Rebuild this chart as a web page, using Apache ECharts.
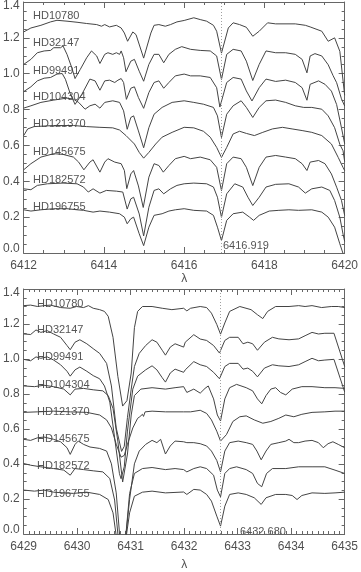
<!DOCTYPE html>
<html>
<head>
<meta charset="utf-8">
<script src="https://cdn.jsdelivr.net/npm/echarts@6/dist/echarts.min.js"></script>
<style>
html,body{margin:0;padding:0;background:#fff;}
#chart{width:361px;height:572px;}
</style>
</head>
<body>
<div id="chart"></div>
<script>
// ---------- DATA ----------
const starNames = ['HD10780','HD32147','HD99491','HD104304','HD121370','HD145675','HD182572','HD196755'];
const markTop = 6416.919;
const markBot = 6432.680;
const xTopRange = [6412, 6420];
const xBotRange = [6429, 6435];

// Top panel spectra [wavelength, relative flux + offset]
const top_HD10780 = [[6412.00,1.233],[6412.18,1.255],[6412.43,1.270],[6412.67,1.289],[6412.83,1.298],[6413.08,1.293],[6413.33,1.287],[6413.57,1.280],[6413.82,1.274],[6413.94,1.265],[6414.02,1.274],[6414.14,1.261],[6414.31,1.270],[6414.43,1.255],[6414.51,1.227],[6414.59,1.181],[6414.72,1.233],[6414.80,1.218],[6414.99,1.087],[6415.17,1.227],[6415.25,1.270],[6415.37,1.274],[6415.53,1.265],[6415.66,1.274],[6415.82,1.289],[6416.00,1.297],[6416.24,1.312],[6416.40,1.302],[6416.56,1.293],[6416.73,1.270],[6416.81,1.237],[6416.93,1.115],[6417.10,1.255],[6417.22,1.284],[6417.38,1.274],[6417.55,1.259],[6417.71,1.209],[6417.87,1.237],[6418.08,1.284],[6418.28,1.278],[6418.77,1.278],[6419.02,1.270],[6419.14,1.261],[6419.43,1.237],[6419.59,1.181],[6419.75,1.200],[6419.88,1.125],[6420.00,0.880]];
const top_HD32147 = [[6412.00,1.052],[6412.18,1.080],[6412.34,1.117],[6412.51,1.127],[6412.67,1.130],[6412.75,1.145],[6412.92,1.145],[6412.98,1.155],[6413.08,1.108],[6413.20,1.033],[6413.28,0.973],[6413.41,1.024],[6413.57,1.089],[6413.69,1.127],[6413.82,1.099],[6413.90,1.057],[6414.02,1.108],[6414.10,1.117],[6414.22,1.108],[6414.31,1.117],[6414.39,1.108],[6414.43,1.127],[6414.49,1.089],[6414.55,1.011],[6414.67,1.070],[6414.76,1.080],[6414.88,1.014],[6414.99,0.958],[6415.12,1.052],[6415.25,1.108],[6415.37,1.108],[6415.49,1.061],[6415.62,1.108],[6415.78,1.136],[6415.94,1.151],[6416.16,1.136],[6416.40,1.130],[6416.65,1.127],[6416.81,1.099],[6416.93,0.968],[6417.06,1.108],[6417.22,1.136],[6417.42,1.127],[6417.55,1.070],[6417.71,0.962],[6417.87,1.052],[6418.04,1.127],[6418.28,1.117],[6418.53,1.117],[6418.77,1.108],[6418.94,1.080],[6419.06,1.005],[6419.14,1.099],[6419.26,1.112],[6419.43,1.099],[6419.59,1.050],[6419.71,0.990],[6419.80,0.950],[6419.92,0.860],[6420.00,0.820]];
const top_HD99491 = [[6412.00,0.900],[6412.18,0.927],[6412.34,0.960],[6412.51,0.975],[6412.67,0.979],[6412.83,0.998],[6412.96,1.001],[6413.04,0.969],[6413.16,0.889],[6413.28,0.829],[6413.45,0.885],[6413.65,0.970],[6413.78,0.960],[6413.90,0.908],[6414.02,0.960],[6414.14,0.964],[6414.27,0.951],[6414.35,0.964],[6414.43,0.973],[6414.49,0.951],[6414.56,0.857],[6414.67,0.919],[6414.76,0.927],[6414.86,0.867],[6414.99,0.807],[6415.12,0.895],[6415.25,0.951],[6415.37,0.960],[6415.49,0.919],[6415.62,0.951],[6415.78,0.988],[6416.00,0.998],[6416.16,0.988],[6416.40,0.988],[6416.65,0.979],[6416.81,0.922],[6416.89,0.814],[6417.06,0.951],[6417.22,0.979],[6417.42,0.970],[6417.55,0.904],[6417.69,0.848],[6417.87,0.922],[6418.04,0.970],[6418.28,0.957],[6418.53,0.964],[6418.77,0.951],[6418.94,0.922],[6419.06,0.852],[6419.14,0.941],[6419.35,0.960],[6419.51,0.941],[6419.67,0.903],[6419.80,0.828],[6419.92,0.699],[6420.00,0.610]];
const top_HD104304 = [[6412.00,0.808],[6412.18,0.821],[6412.43,0.840],[6412.75,0.853],[6413.08,0.864],[6413.24,0.858],[6413.37,0.840],[6413.53,0.802],[6413.65,0.821],[6413.78,0.830],[6413.90,0.808],[6414.02,0.840],[6414.22,0.849],[6414.39,0.840],[6414.49,0.793],[6414.58,0.690],[6414.67,0.756],[6414.74,0.765],[6414.86,0.681],[6414.99,0.587],[6415.12,0.699],[6415.25,0.774],[6415.45,0.812],[6415.70,0.840],[6416.00,0.849],[6416.24,0.840],[6416.48,0.830],[6416.73,0.812],[6416.83,0.765],[6416.93,0.644],[6417.06,0.774],[6417.22,0.821],[6417.42,0.849],[6417.55,0.812],[6417.71,0.756],[6417.87,0.812],[6418.04,0.849],[6418.28,0.853],[6418.53,0.840],[6418.77,0.821],[6418.98,0.812],[6419.18,0.812],[6419.43,0.802],[6419.59,0.765],[6419.75,0.699],[6419.88,0.606],[6419.96,0.570],[6420.00,0.510]];
const top_HD121370 = [[6412.00,0.655],[6412.10,0.692],[6412.26,0.705],[6412.75,0.711],[6413.24,0.711],[6413.57,0.705],[6413.90,0.701],[6414.22,0.698],[6414.39,0.686],[6414.55,0.655],[6414.76,0.608],[6414.88,0.561],[6414.99,0.529],[6415.12,0.561],[6415.29,0.608],[6415.45,0.646],[6415.70,0.673],[6416.00,0.701],[6416.24,0.698],[6416.48,0.679],[6416.65,0.646],[6416.81,0.589],[6416.93,0.533],[6417.06,0.589],[6417.22,0.664],[6417.38,0.679],[6417.55,0.667],[6417.75,0.655],[6417.96,0.673],[6418.20,0.692],[6418.45,0.701],[6418.69,0.692],[6418.94,0.683],[6419.18,0.673],[6419.43,0.655],[6419.67,0.608],[6419.84,0.533],[6419.96,0.477],[6420.00,0.460]];
const top_HD145675 = [[6412.00,0.464],[6412.18,0.498],[6412.43,0.535],[6412.75,0.554],[6412.98,0.550],[6413.24,0.535],[6413.37,0.507],[6413.50,0.464],[6413.65,0.507],[6413.73,0.520],[6413.90,0.451],[6414.02,0.507],[6414.10,0.526],[6414.27,0.507],[6414.43,0.498],[6414.51,0.460],[6414.57,0.359],[6414.67,0.441],[6414.74,0.460],[6414.86,0.374],[6414.98,0.254],[6415.12,0.423],[6415.25,0.498],[6415.37,0.488],[6415.48,0.451],[6415.62,0.488],[6415.78,0.526],[6416.00,0.539],[6416.16,0.526],[6416.40,0.535],[6416.65,0.520],[6416.81,0.478],[6416.93,0.348],[6417.06,0.498],[6417.22,0.535],[6417.42,0.526],[6417.55,0.478],[6417.71,0.376],[6417.87,0.478],[6418.04,0.535],[6418.28,0.544],[6418.53,0.535],[6418.77,0.526],[6418.94,0.498],[6419.06,0.460],[6419.14,0.507],[6419.35,0.516],[6419.51,0.498],[6419.67,0.441],[6419.80,0.367],[6419.92,0.294],[6420.00,0.210]];
const top_HD182572 = [[6412.00,0.358],[6412.18,0.353],[6412.34,0.377],[6412.59,0.386],[6412.98,0.390],[6413.33,0.386],[6413.49,0.368],[6413.61,0.340],[6413.73,0.358],[6413.90,0.334],[6414.06,0.349],[6414.31,0.345],[6414.47,0.340],[6414.58,0.245],[6414.67,0.302],[6414.74,0.311],[6414.88,0.218],[6414.99,0.095],[6415.12,0.255],[6415.25,0.349],[6415.37,0.358],[6415.49,0.330],[6415.66,0.358],[6415.82,0.377],[6416.00,0.386],[6416.24,0.390],[6416.56,0.386],[6416.73,0.368],[6416.83,0.311],[6416.93,0.199],[6417.06,0.330],[6417.26,0.386],[6417.46,0.368],[6417.59,0.311],[6417.71,0.265],[6417.87,0.311],[6418.04,0.368],[6418.28,0.383],[6418.61,0.386],[6418.85,0.368],[6419.02,0.334],[6419.18,0.358],[6419.43,0.368],[6419.63,0.349],[6419.75,0.293],[6419.88,0.199],[6419.96,0.105],[6420.00,0.065]];
const top_HD196755 = [[6412.00,0.241],[6412.18,0.234],[6412.43,0.241],[6412.75,0.247],[6413.08,0.247],[6413.33,0.241],[6413.49,0.238],[6413.73,0.228],[6413.90,0.234],[6414.14,0.228],[6414.39,0.219],[6414.51,0.200],[6414.58,0.163],[6414.67,0.191],[6414.74,0.200],[6414.88,0.107],[6414.99,0.041],[6415.12,0.144],[6415.25,0.210],[6415.45,0.219],[6415.62,0.234],[6415.78,0.241],[6416.00,0.247],[6416.24,0.238],[6416.56,0.234],[6416.73,0.210],[6416.83,0.144],[6416.93,0.069],[6417.06,0.182],[6417.22,0.219],[6417.46,0.228],[6417.63,0.200],[6417.73,0.182],[6417.87,0.210],[6418.12,0.234],[6418.36,0.238],[6418.61,0.241],[6418.85,0.238],[6419.18,0.241],[6419.43,0.228],[6419.59,0.200],[6419.75,0.144],[6419.88,0.051],[6420.00,-0.030]];

// Bottom panel spectra
const bot_HD10780 = [[6429.00,1.305],[6429.13,1.308],[6429.26,1.300],[6429.38,1.305],[6429.50,1.308],[6429.69,1.294],[6429.87,1.290],[6429.99,1.300],[6430.12,1.294],[6430.21,1.305],[6430.30,1.290],[6430.42,1.282],[6430.51,1.272],[6430.58,1.244],[6430.67,1.124],[6430.76,0.901],[6430.85,0.731],[6430.93,0.762],[6431.01,0.920],[6431.07,1.179],[6431.13,1.272],[6431.22,1.300],[6431.40,1.300],[6431.59,1.290],[6431.77,1.282],[6431.99,1.290],[6432.05,1.275],[6432.12,1.290],[6432.30,1.300],[6432.42,1.294],[6432.51,1.262],[6432.61,1.197],[6432.68,1.142],[6432.76,1.206],[6432.85,1.272],[6433.04,1.300],[6433.25,1.282],[6433.37,1.253],[6433.47,1.231],[6433.56,1.272],[6433.71,1.300],[6433.96,1.300],[6434.14,1.305],[6434.26,1.300],[6434.39,1.305],[6434.57,1.294],[6434.75,1.300],[6434.88,1.300],[6435.00,1.294]];
const bot_HD32147 = [[6429.00,1.143],[6429.13,1.140],[6429.23,1.166],[6429.32,1.152],[6429.44,1.162],[6429.56,1.143],[6429.69,1.124],[6429.81,1.077],[6429.87,1.053],[6429.96,1.096],[6430.05,1.110],[6430.18,1.087],[6430.30,1.059],[6430.42,1.032],[6430.55,0.975],[6430.64,0.846],[6430.73,0.606],[6430.83,0.472],[6430.88,0.501],[6430.94,0.666],[6431.01,0.828],[6431.07,0.957],[6431.16,1.032],[6431.28,1.077],[6431.40,1.110],[6431.49,1.096],[6431.59,1.050],[6431.65,1.022],[6431.74,1.068],[6431.83,1.087],[6431.99,1.068],[6432.02,1.096],[6432.18,1.139],[6432.30,1.114],[6432.42,1.106],[6432.55,1.077],[6432.66,1.034],[6432.76,1.106],[6432.85,1.124],[6433.01,1.124],[6433.10,1.087],[6433.19,1.096],[6433.28,1.087],[6433.37,1.050],[6433.50,1.096],[6433.65,1.124],[6433.77,1.115],[6433.96,1.110],[6434.14,1.115],[6434.26,1.133],[6434.39,1.152],[6434.51,1.143],[6434.63,1.147],[6434.80,1.147],[6435.00,0.958]];
const bot_HD99491 = [[6429.00,0.998],[6429.13,0.990],[6429.23,1.012],[6429.32,1.004],[6429.44,1.012],[6429.56,0.994],[6429.69,0.967],[6429.81,0.930],[6429.87,0.902],[6429.96,0.938],[6430.05,0.954],[6430.18,0.930],[6430.30,0.905],[6430.42,0.887],[6430.51,0.846],[6430.61,0.754],[6430.70,0.550],[6430.79,0.345],[6430.82,0.316],[6430.88,0.384],[6430.94,0.588],[6431.04,0.828],[6431.13,0.902],[6431.28,0.938],[6431.40,0.961],[6431.49,0.938],[6431.59,0.893],[6431.65,0.868],[6431.74,0.920],[6431.83,0.942],[6431.99,0.924],[6432.02,0.938],[6432.18,0.985],[6432.30,0.967],[6432.42,0.957],[6432.55,0.924],[6432.66,0.887],[6432.76,0.957],[6432.85,0.975],[6433.01,0.975],[6433.10,0.942],[6433.19,0.948],[6433.28,0.930],[6433.37,0.898],[6433.50,0.948],[6433.65,0.967],[6433.77,0.961],[6433.96,0.957],[6434.14,0.967],[6434.26,0.985],[6434.39,1.004],[6434.51,0.990],[6434.63,0.994],[6434.80,0.998],[6435.00,0.812]];
const bot_HD104304 = [[6429.00,0.846],[6429.20,0.842],[6429.38,0.850],[6429.56,0.842],[6429.75,0.828],[6429.87,0.795],[6429.96,0.828],[6430.12,0.832],[6430.30,0.824],[6430.48,0.818],[6430.58,0.791],[6430.67,0.717],[6430.76,0.531],[6430.85,0.297],[6430.88,0.307],[6430.94,0.457],[6431.01,0.680],[6431.07,0.791],[6431.19,0.828],[6431.40,0.836],[6431.65,0.828],[6431.83,0.836],[6431.99,0.842],[6432.05,0.809],[6432.18,0.828],[6432.30,0.805],[6432.39,0.832],[6432.45,0.846],[6432.55,0.772],[6432.62,0.680],[6432.68,0.646],[6432.76,0.772],[6432.85,0.836],[6432.98,0.855],[6433.16,0.836],[6433.28,0.818],[6433.37,0.772],[6433.45,0.744],[6433.53,0.791],[6433.62,0.828],[6433.71,0.836],[6433.80,0.809],[6433.90,0.795],[6434.02,0.828],[6434.20,0.842],[6434.39,0.842],[6434.63,0.836],[6434.82,0.836],[6435.00,0.832]];
const bot_HD121370 = [[6429.00,0.695],[6429.26,0.698],[6429.56,0.702],[6429.87,0.698],[6430.18,0.695],[6430.42,0.680],[6430.55,0.652],[6430.64,0.606],[6430.73,0.513],[6430.82,0.439],[6430.88,0.449],[6430.94,0.513],[6431.04,0.606],[6431.13,0.661],[6431.17,0.670],[6431.22,0.684],[6431.24,0.672],[6431.27,0.698],[6431.40,0.702],[6431.65,0.698],[6431.99,0.698],[6432.12,0.698],[6432.30,0.707],[6432.42,0.689],[6432.51,0.652],[6432.61,0.587],[6432.68,0.531],[6432.79,0.568],[6432.91,0.643],[6433.04,0.670],[6433.16,0.675],[6433.31,0.652],[6433.47,0.633],[6433.62,0.643],[6433.77,0.661],[6433.90,0.680],[6434.05,0.670],[6434.20,0.684],[6434.39,0.695],[6434.63,0.698],[6434.82,0.702],[6435.00,0.702]];
const bot_HD145675 = [[6429.00,0.541],[6429.13,0.535],[6429.26,0.550],[6429.38,0.554],[6429.56,0.541],[6429.69,0.527],[6429.81,0.493],[6429.87,0.455],[6429.96,0.512],[6430.02,0.531],[6430.12,0.512],[6430.24,0.497],[6430.42,0.489],[6430.55,0.474],[6430.64,0.401],[6430.73,0.235],[6430.84,-0.180],[6430.90,-0.040],[6430.98,0.198],[6431.07,0.401],[6431.16,0.474],[6431.28,0.512],[6431.40,0.535],[6431.49,0.522],[6431.56,0.541],[6431.65,0.457],[6431.74,0.503],[6431.83,0.531],[6431.99,0.527],[6432.05,0.522],[6432.18,0.522],[6432.30,0.516],[6432.42,0.503],[6432.51,0.474],[6432.61,0.420],[6432.68,0.355],[6432.76,0.474],[6432.85,0.522],[6433.01,0.531],[6433.16,0.522],[6433.28,0.512],[6433.36,0.474],[6433.44,0.424],[6433.53,0.474],[6433.62,0.512],[6433.77,0.522],[6433.90,0.531],[6433.96,0.541],[6434.05,0.522],[6434.14,0.522],[6434.26,0.531],[6434.39,0.535],[6434.51,0.522],[6434.60,0.493],[6434.69,0.516],[6434.78,0.527],[6434.88,0.512],[6435.00,0.493]];
const bot_HD182572 = [[6429.00,0.403],[6429.13,0.393],[6429.32,0.384],[6429.56,0.374],[6429.75,0.365],[6429.87,0.336],[6429.96,0.374],[6430.12,0.368],[6430.30,0.361],[6430.48,0.355],[6430.61,0.317],[6430.70,0.194],[6430.84,-0.250],[6430.90,-0.040],[6430.98,0.231],[6431.07,0.346],[6431.22,0.374],[6431.40,0.380],[6431.65,0.368],[6431.83,0.374],[6431.99,0.368],[6432.05,0.355],[6432.18,0.374],[6432.30,0.384],[6432.42,0.374],[6432.55,0.336],[6432.62,0.251],[6432.68,0.212],[6432.76,0.346],[6432.85,0.374],[6432.98,0.384],[6433.16,0.368],[6433.28,0.346],[6433.37,0.289],[6433.45,0.270],[6433.54,0.346],[6433.65,0.374],[6433.90,0.374],[6434.14,0.384],[6434.39,0.384],[6434.63,0.384],[6434.82,0.365],[6435.00,0.346]];
const bot_HD196755 = [[6429.00,0.251],[6429.20,0.245],[6429.38,0.251],[6429.56,0.239],[6429.75,0.235],[6429.93,0.232],[6430.18,0.239],[6430.42,0.226],[6430.58,0.197],[6430.67,0.121],[6430.84,-0.250],[6430.90,-0.050],[6430.98,0.121],[6431.07,0.216],[6431.22,0.239],[6431.40,0.245],[6431.65,0.235],[6431.99,0.240],[6432.05,0.226],[6432.18,0.255],[6432.30,0.251],[6432.42,0.226],[6432.51,0.188],[6432.61,0.102],[6432.68,0.045],[6432.76,0.159],[6432.85,0.226],[6433.01,0.235],[6433.16,0.226],[6433.31,0.207],[6433.44,0.169],[6433.53,0.207],[6433.71,0.226],[6433.90,0.226],[6434.02,0.220],[6434.11,0.197],[6434.20,0.220],[6434.39,0.235],[6434.63,0.232],[6434.82,0.235],[6435.00,0.239]];

const topSpectra = [top_HD10780, top_HD32147, top_HD99491, top_HD104304, top_HD121370, top_HD145675, top_HD182572, top_HD196755];
const botSpectra = [bot_HD10780, bot_HD32147, bot_HD99491, bot_HD104304, bot_HD121370, bot_HD145675, bot_HD182572, bot_HD196755];

// ---------- STYLE / LAYOUT ----------
const FONT = 'Liberation Sans';
const TXT = '#505050';
const AX = '#666';
const LINE = '#444';
const G = [
  {left: 21, top: 1, width: 326, height: 252},
  {left: 21, top: 289, width: 326, height: 252}
];
const labelTopY = [16, 43, 71, 97, 124, 152, 180, 207];
const labelBotY = [304, 330, 357, 385, 412, 439, 466, 494];

function xAxisPair(gi, range, interval, minorSplit, nameGap) {
  const common = {
    gridIndex: gi, type: 'value', min: range[0], max: range[1], interval: interval,
    axisLine: {show: true, onZero: false, lineStyle: {color: AX, width: 1}},
    axisTick: {show: true, inside: true, length: 6, lineStyle: {color: AX}},
    minorTick: {show: true, splitNumber: minorSplit, length: 3, lineStyle: {color: AX}},
    splitLine: {show: false}
  };
  return [
    Object.assign({}, common, {
      position: 'bottom',
      axisLabel: {show: true, fontFamily: FONT, fontSize: 12, color: TXT, margin: 7,
                  formatter: v => String(Math.round(v))},
      name: 'λ', nameLocation: 'middle', nameGap: nameGap,
      nameTextStyle: {fontFamily: FONT, fontSize: 12, color: TXT}
    }),
    Object.assign({}, common, {position: 'top', axisLabel: {show: false}})
  ];
}
function yAxisPair(gi) {
  const common = {
    gridIndex: gi, type: 'value', min: 0, max: 1.4, interval: 0.2,
    axisLine: {show: true, onZero: false, lineStyle: {color: AX, width: 1}},
    axisTick: {show: true, inside: true, length: 6, lineStyle: {color: AX}},
    minorTick: {show: true, splitNumber: 4, length: 3, lineStyle: {color: AX}},
    splitLine: {show: false}
  };
  return [
    Object.assign({}, common, {
      position: 'left',
      axisLabel: {show: true, fontFamily: FONT, fontSize: 12, color: TXT, margin: 4,
                  lineHeight: 8,
                  verticalAlignMinLabel: 'bottom', verticalAlignMaxLabel: 'top',
                  formatter: v => v.toFixed(1)}
    }),
    Object.assign({}, common, {position: 'right', axisLabel: {show: false}})
  ];
}

const xAxes = [].concat(xAxisPair(0, xTopRange, 2, 4, 19), xAxisPair(1, xBotRange, 1, 10, 25));
const yAxes = [].concat(yAxisPair(0), yAxisPair(1));

const series = [];
function addPanel(spectra, xi, yi, markVal) {
  spectra.forEach((d, i) => {
    const s = {
      type: 'line', xAxisIndex: xi, yAxisIndex: yi, data: d,
      showSymbol: false, symbol: 'none', smooth: false, clip: true,
      lineStyle: {color: LINE, width: 1}, silent: true, z: 3
    };
    if (i === 0) {
      s.markLine = {
        silent: true, symbol: ['none', 'none'], label: {show: false},
        lineStyle: {type: [1, 2], color: '#a0a0a0', width: 1},
        data: [{xAxis: markVal}], animation: false
      };
    }
    series.push(s);
  });
}
addPanel(topSpectra, 0, 0, markTop);
addPanel(botSpectra, 2, 2, markBot);

const graphics = [];
starNames.forEach((n, i) => {
  graphics.push({type: 'text', left: 33, top: labelTopY[i] - 6,
    style: {text: n, fontFamily: FONT, fontSize: 11, fill: '#555'}, silent: true});
  graphics.push({type: 'text', left: 37, top: labelBotY[i] - 6,
    style: {text: n, fontFamily: FONT, fontSize: 11, fill: '#555'}, silent: true});
});
graphics.push({type: 'text', left: 223, top: 240,
  style: {text: markTop.toFixed(3), fontFamily: FONT, fontSize: 11, fill: '#555'}, silent: true});
graphics.push({type: 'text', left: 240, top: 526,
  style: {text: markBot.toFixed(3), fontFamily: FONT, fontSize: 11, fill: '#555'}, silent: true});

const chart = echarts.init(document.getElementById('chart'), null, {renderer: 'canvas'});
chart.setOption({
  animation: false,
  backgroundColor: '#fff',
  grid: G,
  xAxis: xAxes,
  yAxis: yAxes,
  series: series,
  graphic: graphics
});
</script>
</body>
</html>
